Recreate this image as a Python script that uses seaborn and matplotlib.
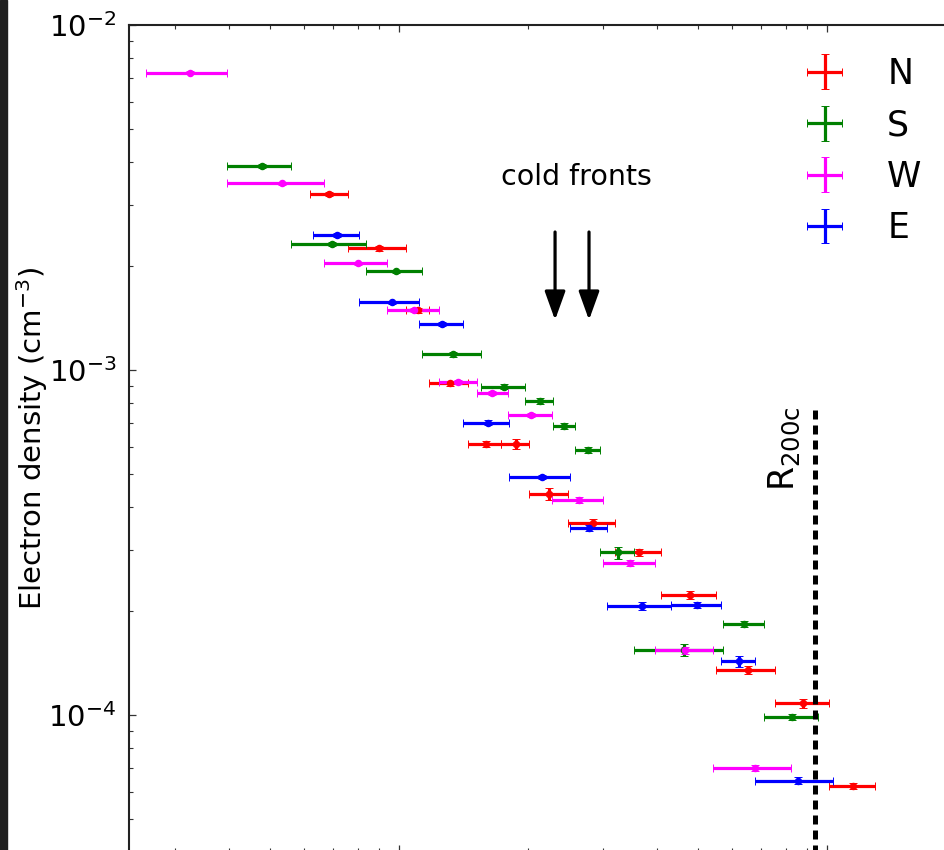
import numpy as np
import matplotlib
matplotlib.use("Agg")
import matplotlib.pyplot as plt
import seaborn as sns
from matplotlib.patches import Rectangle
from matplotlib.lines import Line2D

# ---------------- data ----------------
series_names = ["N", "S", "W", "E"]
series_colors = ["#ff0000", "#008000", "#ff00ff", "#0000ff"]

# North
n_x = [0.0687, 0.0897, 0.1110, 0.1316, 0.1597, 0.1874, 0.2241, 0.2836, 0.3637, 0.4786, 0.6527, 0.8805, 1.1522]
n_edges = [0.0619, 0.0759, 0.1038, 0.1177, 0.1452, 0.1731, 0.2013, 0.2479, 0.3196, 0.4094, 0.5505, 0.7579, 1.0092, 1.2929]
n_y = [3.24e-3, 2.25e-3, 1.49e-3, 9.15e-4, 6.09e-4, 6.11e-4, 4.37e-4, 3.60e-4, 2.96e-4, 2.23e-4, 1.35e-4, 1.08e-4, 6.22e-5]
n_rel = [0.015, 0.015, 0.015, 0.015, 0.02, 0.034, 0.04, 0.028, 0.025, 0.025, 0.025, 0.027, 0.022]

# South
s_x = [0.0478, 0.0698, 0.0982, 0.1339, 0.1762, 0.2136, 0.2430, 0.2760, 0.3243, 0.4642, 0.6409, 0.8297]
s_edges = [0.0396, 0.0558, 0.0836, 0.1130, 0.1552, 0.1970, 0.2294, 0.2574, 0.2949, 0.3546, 0.5724, 0.7137, 0.9512]
s_y = [3.91e-3, 2.32e-3, 1.93e-3, 1.11e-3, 8.95e-4, 8.13e-4, 6.88e-4, 5.85e-4, 2.96e-4, 1.54e-4, 1.84e-4, 9.87e-5]
s_rel = [0.012, 0.012, 0.012, 0.015, 0.015, 0.02, 0.02, 0.02, 0.04, 0.04, 0.02, 0.02]

# West
w_x = [0.0325, 0.0533, 0.0802, 0.1084, 0.1373, 0.1649, 0.2034, 0.2634, 0.3465, 0.4660, 0.6787]
w_edges = [0.0256, 0.0396, 0.0668, 0.0937, 0.1240, 0.1521, 0.1797, 0.2278, 0.2997, 0.3964, 0.5428, 0.8240]
w_y = [7.26e-3, 3.48e-3, 2.04e-3, 1.49e-3, 9.23e-4, 8.58e-4, 7.41e-4, 4.20e-4, 2.76e-4, 1.54e-4, 7.02e-5]
w_rel = [0.01, 0.01, 0.01, 0.012, 0.015, 0.015, 0.015, 0.02, 0.02, 0.025, 0.02]

# East
e_x = [0.0715, 0.0961, 0.1260, 0.1612, 0.2159, 0.2779, 0.3690, 0.4977, 0.6238, 0.8540]
e_edges = [0.0629, 0.0806, 0.1114, 0.1411, 0.1807, 0.2509, 0.3062, 0.4314, 0.5663, 0.6778, 1.031]
e_y = [2.46e-3, 1.57e-3, 1.36e-3, 7.04e-4, 4.89e-4, 3.48e-4, 2.07e-4, 2.09e-4, 1.43e-4, 6.45e-5]
e_rel = [0.012, 0.012, 0.012, 0.015, 0.015, 0.02, 0.027, 0.02, 0.035, 0.025]

cold_front_x = [0.2315, 0.2779]
r200c_x = 0.9375

# ---------------- style ----------------
sns.set_theme(style="ticks")
plt.rcParams["font.family"] = ["DejaVu Sans"]
plt.rcParams["mathtext.fontset"] = "dejavusans"
plt.rcParams.update({
    "xtick.direction": "in", "ytick.direction": "in",
    "xtick.top": True, "ytick.right": True,
    "xtick.major.size": 5, "ytick.major.size": 5,
    "xtick.minor.size": 2.8, "ytick.minor.size": 2.8,
    "xtick.major.width": 0.9, "ytick.major.width": 0.9,
    "xtick.minor.width": 0.8, "ytick.minor.width": 0.8,
    "xtick.color": "#333333", "ytick.color": "#333333",
    "xtick.labelcolor": "black", "ytick.labelcolor": "black",
    "axes.edgecolor": "#222222", "axes.linewidth": 1.5,
    "xtick.labelsize": 21, "ytick.labelsize": 21,
    "text.color": "black", "axes.labelcolor": "black",
})

fig = plt.figure(figsize=(9.44, 8.5), dpi=100)
fig.patch.set_facecolor("white")
ax = fig.add_axes([129 / 944, -2 / 850, (990 - 129) / 944, (850 - 25 + 2) / 850])
ax.set_facecolor("white")
ax.set_xscale("log")
ax.set_yscale("log")

data = [
    (n_x, n_edges, n_y, n_rel),
    (s_x, s_edges, s_y, s_rel),
    (w_x, w_edges, w_y, w_rel),
    (e_x, e_edges, e_y, e_rel),
]
for (xc, edges, y, rel), name, col in zip(data, series_names, series_colors):
    xc = np.asarray(xc)
    edges = np.asarray(edges)
    y = np.asarray(y)
    xerr = [xc - edges[:-1], edges[1:] - xc]
    yerr = y * np.asarray(rel)
    ax.errorbar(xc, y, xerr=xerr, yerr=yerr, fmt="o", color=col, mec=col,
                ms=4.4, elinewidth=2.3, capsize=2.6, capthick=0.7, label=name)

ax.set_xlim(0.02339, 2.4035)
ax.set_ylim(4.0077e-5, 1e-2)

ax.set_ylabel(r"Electron density (cm$^{-3}$)", fontsize=21, labelpad=-1)
ax.tick_params(axis="y", which="major", pad=9)
# the x tick labels lie below the cropped lower edge of the reference
ax.tick_params(axis="x", which="both", labelbottom=False)

# cold fronts annotation
ax.text(0.260, 3.63e-3, "cold fronts", fontsize=20.5, ha="center", va="center", color="black")
for cx in cold_front_x:
    ax.annotate("", xy=(cx, 1.396e-3), xytext=(cx, 2.512e-3),
                arrowprops=dict(arrowstyle="-|>,head_length=0.5,head_width=0.18",
                                color="black", lw=2.3, mutation_scale=35,
                                shrinkA=0, shrinkB=0))

# R200c line
ax.plot([r200c_x, r200c_x], [7.66e-4, 3e-5], color="black", lw=3.6,
        dashes=(1.8, 1.2), solid_capstyle="butt", dash_capstyle="butt")
ax.text(0.7932, 5.90e-4, r"R$_{\mathregular{200c}}$", rotation=90, fontsize=25,
        ha="center", va="center", color="black")

leg = ax.legend(loc="upper left", bbox_to_anchor=(790 / 944, 1 - 57 / 850),
                bbox_transform=fig.transFigure, frameon=False, fontsize=25,
                borderpad=0, borderaxespad=0, handlelength=2.0,
                handletextpad=0.8, labelspacing=0.5, numpoints=1)
# legend crosses in the reference show no centre dot
for ln in leg.findobj(Line2D):
    if ln.get_marker() == "o":
        ln.set_marker("None")

# dark strip on the far left (part of the original screenshot)
fig.add_artist(Rectangle((0, 0), 7 / 944, 1, transform=fig.transFigure,
                         color="#1f1f1f", zorder=10))

fig.savefig("out.png", dpi=100)
